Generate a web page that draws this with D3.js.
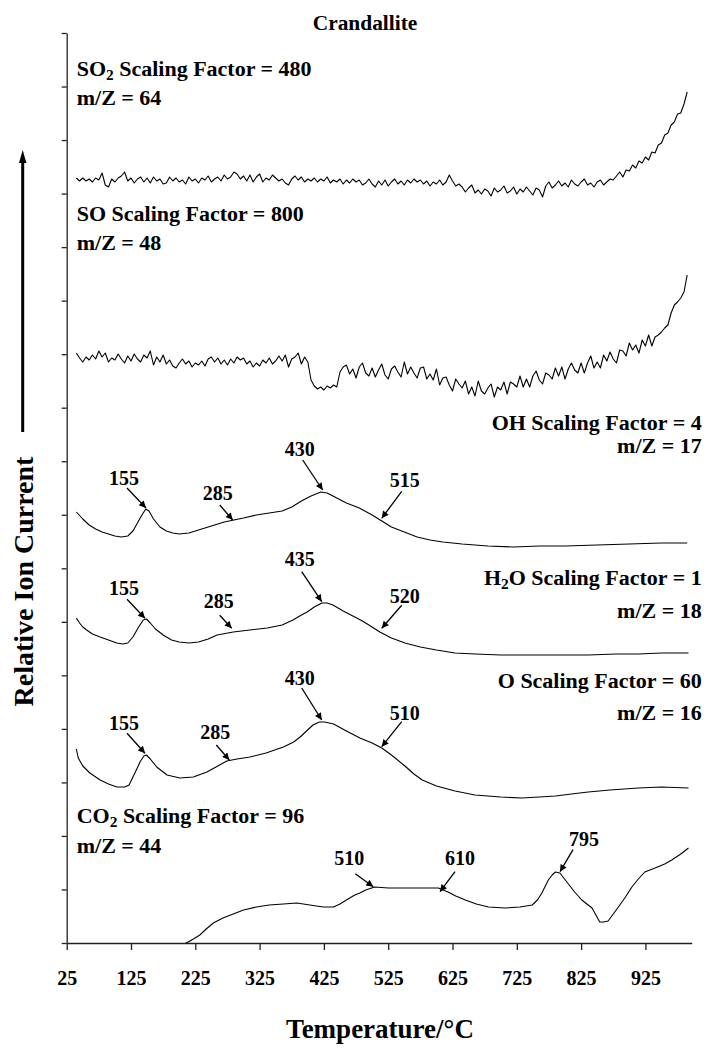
<!DOCTYPE html>
<html><head><meta charset="utf-8">
<script src="https://cdn.jsdelivr.net/npm/d3@7"></script>
<style>
body{margin:0;background:#fff;}
svg text{font-family:"Liberation Serif","Times New Roman",serif;font-weight:bold;fill:#000;}
</style></head><body>
<svg id="chart" width="715" height="1057"></svg>
<script>
// ---------- data ----------
const chartTitle = "Crandallite";
const xTitle = "Temperature/°C";
const yTitle = "Relative Ion Current";
const xDomain = [25, 997];
const xTickValues = [25, 125, 225, 325, 425, 525, 625, 725, 825, 925];
const yDomain = [0, 910];          // relative ion current, arbitrary units
const yTickIntervals = 17;

// noisy traces sampled every 5 °C starting at 40 °C
const gridStart = 40, gridStep = 5;
const so2Values = [
 765,762,765,762,764,761,765,763,770,758,756,764,
 761,765,767,771,762,765,760,764,766,761,765,760,
 766,762,764,759,760,766,762,765,761,763,759,766,
 762,764,760,765,763,767,761,764,766,762,768,764,
 766,771,769,764,767,762,768,761,766,769,761,765,
 763,768,765,762,764,760,758,764,767,763,766,761,
 764,762,765,761,764,762,766,760,763,761,764,759,
 763,760,764,761,763,758,760,764,759,756,762,758,
 763,757,761,764,759,762,758,763,760,764,761,763,
 759,762,757,761,759,763,758,761,768,762,757,759,
 756,751,755,758,750,753,749,754,752,747,755,751,
 753,757,750,752,756,749,754,751,756,752,748,755,
 753,746,757,761,755,758,762,757,760,756,763,759,
 757,761,764,758,760,756,761,763,758,761,764,763,
 767,771,766,773,772,778,775,782,780,786,783,791,
 790,798,800,808,810,818,821,829,830,839,851
];
const soValues = [
 590,585,581,586,583,588,584,592,586,590,581,585,
 583,589,584,580,587,582,589,584,581,588,585,592,
 578,586,581,588,579,583,577,575,580,584,579,582,
 576,580,578,582,577,584,586,581,585,579,583,578,
 584,580,586,583,585,579,582,576,580,577,583,580,
 585,579,582,587,582,588,576,584,586,590,579,586,
 581,563,557,554,556,553,557,555,558,556,571,576,
 578,569,574,565,576,580,570,567,575,566,573,579,
 568,564,574,577,571,566,581,569,576,570,565,575,
 576,564,569,563,574,558,565,566,558,552,564,559,
 555,562,549,556,547,562,552,549,555,559,546,556,
 553,561,549,561,559,556,567,556,564,556,567,572,
 563,559,570,568,564,575,567,576,564,574,580,573,
 570,580,570,580,587,575,581,575,588,582,591,584,
 580,593,592,587,600,593,598,590,603,597,608,597,
 606,608,611,615,618,630,638,641,645,651,668
];

const ohTemps  = [40,50,60,70,80,90,100,110,120,128,135,142,148,153,160,170,180,190,200,215,230,250,270,285,300,320,340,360,375,390,405,420,430,445,460,480,500,515,530,550,570,590,610,640,680,720,760,800,850,900,950,990];
const ohValues = [431,424,418,414,411,409,407,406,407,412,420,428,434,432,424,416,412,410,409,410,413,417,421,423,425,428,430,432,436,442,447,451,450,445,440,435,428,422,416,411,406,403,401,399,397,396,397,397,398,399,400,400];

const h2oTemps  = [40,45,50,56,65,77,90,103,112,120,128,136,144,149,155,163,175,188,200,215,230,245,259,284,310,337,360,377,390,399,410,422,430,439,455,470,482,495,512,530,551,575,600,629,660,700,733,780,836,880,914,950,992];
const h2oValues = [325,320,316,313,309,306,303,300,299,300,306,315,323,324,320,314,308,303,301,300,301,304,308,311,313,315,318,323,328,331,336,340,340,338,332,327,323,318,311,305,300,296,293,290,289,288,288,288,288,289,289,290,290];

const oTemps  = [40,43,50,61,77,90,103,115,122,128,134,139,145,149,155,165,181,201,222,243,260,274,290,310,335,362,378,388,398,408,418,426,440,460,481,500,515,530,551,565,578,600,629,660,700,733,760,785,810,836,870,914,950,992];
const oValues = [194,185,177,170,163,159,156,156,158,166,174,181,187,188,184,176,168,165,166,171,177,182,184,186,190,196,201,206,212,218,221,221,219,212,205,200,195,188,177,169,163,157,152,148,146,145,146,147,149,151,153,155,156,155];

const co2Temps  = [210,214,222,232,242,253,268,284,300,320,340,362,383,403,424,440,450,460,473,481,490,504,525,550,575,603,618,630,645,662,681,707,730,749,757,764,774,780,785,792,798,804,815,826,842,848,854,860,867,875,883,894,904,914,924,940,955,966,980,992];
const co2Values = [0,1,4,8,14,20,25,29,33,36,38,39,40,38,36,36,39,43,48,50,53,56,55,55,55,55,51,47,43,39,36,35,36,38,43,50,63,68,71,70,65,60,51,43,35,28,21,21,22,29,36,46,56,64,71,75,79,83,89,95];

const seriesSpecies   = ["SO2", "SO", "OH", "H2O", "O", "CO2"];
const scalingFactors  = [480, 800, 4, 1, 60, 96];
const massToCharge    = [64, 48, 17, 18, 16, 44];

// peak annotations
const annSeries = ["OH","OH","OH","OH","H2O","H2O","H2O","H2O","O","O","O","O","CO2","CO2","CO2"];
const annLabels = ["155","285","430","515","155","285","435","520","155","285","430","510","510","610","795"];
const annTemps  = [148.3,283.2,423.1,514.9,146.8,281.6,421.6,514.9,146.8,277.9,421.6,514.9,501.8,605.6,792.2];
const annValues = [435,423,453,424.7,324.7,314.7,341.3,314.7,189.7,183,223,196.3,56.3,51.3,71.3];

// ---------- layout (pixels) ----------
const plot = {left: 66.7, right: 691.7, top: 33, bottom: 943};
// [arrow start dx, dy, label dx, label baseline dy] relative to arrow tip
const annLayout = [
 [-19,-20,-22,-23],[-13,-15,-15,-20],[-20,-30,-23,-34],[20,-27,23,-31],
 [-18,-19,-21,-23],[-12,-13,-13,-20],[-20,-30,-22,-36],[20,-23,23,-25],
 [-18,-20,-21,-23],[-13,-15,-14,-21],[-20,-32,-22,-35],[20,-25,23,-27],
 [-18,-13,-24,-22],[15,-20,20,-27],[13,-22,24,-26]
];
const labelLayout = [
 {anchor:"start", x:76.7, y1:76,    y2:105},
 {anchor:"start", x:76.7, y1:220.7, y2:250},
 {anchor:"end",   x:701.7, y1:430,  y2:453},
 {anchor:"end",   x:701.7, y1:585,  y2:618},
 {anchor:"end",   x:701.7, y1:688,  y2:720},
 {anchor:"start", x:76.7, y1:823,   y2:853}
];
const labelStretch = 1.1;

// ---------- build ----------
const svg = d3.select("#chart");
const x = d3.scaleLinear().domain(xDomain).range([plot.left, plot.right]);
const y = d3.scaleLinear().domain(yDomain).range([plot.bottom, plot.top]);

const gridTemps = n => d3.range(n).map(i => gridStart + i * gridStep);
const series = {
  SO2: d3.zip(gridTemps(so2Values.length), so2Values),
  SO:  d3.zip(gridTemps(soValues.length), soValues),
  OH:  d3.zip(ohTemps, ohValues),
  H2O: d3.zip(h2oTemps, h2oValues),
  O:   d3.zip(oTemps, oValues),
  CO2: d3.zip(co2Temps, co2Values)
};

const line = d3.line().x(d => x(d[0])).y(d => y(d[1]));

// axes
const yTicks = d3.range(yTickIntervals + 1).map(i => yDomain[0] + i * (yDomain[1] - yDomain[0]) / yTickIntervals);
const gy = svg.append("g").attr("transform", `translate(${plot.left},0)`)
  .call(d3.axisLeft(y).tickValues(yTicks).tickFormat("").tickSize(5).tickSizeOuter(0));
const gx = svg.append("g").attr("transform", `translate(0,${plot.bottom})`)
  .call(d3.axisBottom(x).tickValues(xTickValues).tickFormat(d3.format("d")).tickSize(7).tickSizeOuter(0));
[gx, gy].forEach(g => {
  g.select(".domain").attr("stroke", "#222").attr("stroke-width", 1.3);
  g.selectAll(".tick line").attr("stroke", "#222").attr("stroke-width", 1.3);
});
gx.selectAll(".tick text").attr("y", 42).attr("dy", 0)
  .style("font-size", "20px").attr("fill", "#000");

// curves
seriesSpecies.forEach(s => {
  svg.append("path").datum(series[s])
    .attr("fill", "none").attr("stroke", "#000").attr("stroke-width", 1.1)
    .attr("stroke-linejoin", "round")
    .attr("d", line);
});

// series labels (chemical formula with subscript digits)
function writeLabel(sel, species, rest) {
  const parts = species.split(/(\d)/).filter(p => p !== "");
  let shifted = false;
  parts.forEach(p => {
    if (/^\d$/.test(p)) { sel.append("tspan").attr("dy", 4).style("font-size", "14px").text(p); shifted = true; }
    else { const t = sel.append("tspan").text(p); if (shifted) { t.attr("dy", -4); shifted = false; } }
  });
  const t = sel.append("tspan").text(rest);
  if (shifted) t.attr("dy", -4);
}
seriesSpecies.forEach((s, i) => {
  const L = labelLayout[i];
  const g1 = svg.append("g").attr("transform", `translate(${L.x},${L.y1}) scale(${labelStretch},1)`);
  writeLabel(g1.append("text").attr("text-anchor", L.anchor).style("font-size", "20px"), s, ` Scaling Factor = ${scalingFactors[i]}`);
  svg.append("g").attr("transform", `translate(${L.x},${L.y2}) scale(${labelStretch},1)`)
    .append("text").attr("text-anchor", L.anchor).style("font-size", "20px")
    .text(`m/Z = ${massToCharge[i]}`);
});

// annotations
svg.append("defs").append("marker").attr("id", "ah")
  .attr("viewBox", "0 0 10 10").attr("refX", 10).attr("refY", 5)
  .attr("markerWidth", 9).attr("markerHeight", 7).attr("markerUnits", "userSpaceOnUse")
  .attr("orient", "auto")
  .append("path").attr("d", "M0,0L10,5L0,10Z").attr("fill", "#000");
annLabels.forEach((lab, i) => {
  const tx = x(annTemps[i]), ty = y(annValues[i]);
  const [ax, ay, lx, ly] = annLayout[i];
  svg.append("line").attr("x1", tx + ax).attr("y1", ty + ay).attr("x2", tx).attr("y2", ty)
    .attr("stroke", "#000").attr("stroke-width", 1.3).attr("marker-end", "url(#ah)");
  svg.append("text").attr("x", tx + lx).attr("y", ty + ly).attr("text-anchor", "middle")
    .style("font-size", "20px").text(lab);
});

// titles
svg.append("g").attr("transform", "translate(365,30) scale(1.07,1)")
  .append("text").attr("text-anchor", "middle").style("font-size", "20px").text(chartTitle);
svg.append("text").attr("x", 380).attr("y", 1038).attr("text-anchor", "middle").style("font-size", "27px").text(xTitle);
svg.append("text").attr("transform", "translate(33,581.5) rotate(-90)").attr("text-anchor", "middle")
  .style("font-size", "28px").text(yTitle);
// y-direction arrow
svg.append("line").attr("x1", 22.7).attr("x2", 22.7).attr("y1", 432).attr("y2", 160)
  .attr("stroke", "#000").attr("stroke-width", 3);
svg.append("path").attr("d", "M19,163L22.7,150L26.4,163Z").attr("fill", "#000");
</script>
</body></html>
